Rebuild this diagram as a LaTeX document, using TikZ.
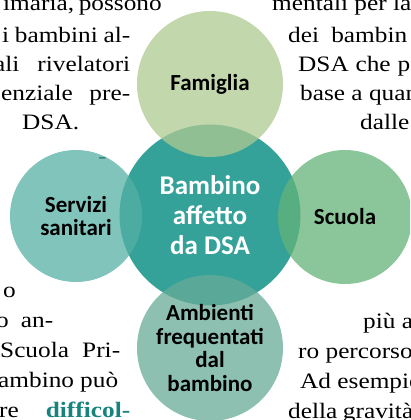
\documentclass[tikz,border=0pt]{standalone}
\usepackage{fontspec}
\usepackage{xcolor}
\setmainfont[FakeStretch=1.15]{Liberation Serif}
\newfontfamily\labelfont{Carlito}
\definecolor{dsateal}{RGB}{53,162,154}
\definecolor{dsadark}{RGB}{22,132,122}
\definecolor{famgreen}{RGB}{175,202,146}
\definecolor{santeal}{RGB}{86,176,166}
\definecolor{scugreen}{RGB}{99,179,120}
\definecolor{ambteal}{RGB}{103,171,151}

\begin{document}
\begin{tikzpicture}[x=1pt, y=-1pt,
    hub/.style={circle, fill=dsateal, inner sep=0pt, minimum size=181pt,
        align=center, text=white, font=\labelfont\bfseries\fontsize{27}{30}\selectfont},
    petal/.style={circle, fill opacity=0.75, text opacity=1, inner sep=0pt,
        align=center, font=\labelfont\bfseries\fontsize{23}{23.5}\selectfont},
    bgtext/.style={anchor=base west, inner sep=0pt, font=\fontsize{22}{29}\selectfont}]
    \useasboundingbox (0,0) rectangle (410,420);
    \clip (0,0) rectangle (410,420);

    % Page text around the figure (justified lines)
    \foreach \n/\x/\y/\w/\t in {1/3/11/153/{imaria, possono}, 2/2/42/128/{i bambini al-},
        3/-6/71/136/{ali rivelatori}, 4/1/100/129/{enziale pre-},
        5/-4/327/57/{o an-}, 6/0/357/120/{Scuola Pri-}, 7/-2/387/120/{ambino può},
        8/-1/417/131/{re \textbf{\color{dsadark}difficol-}}} {
        \node[bgtext] (left\n) at (\x,\y) {\makebox[\w pt][s]{\t}};
    }
    \foreach \n/\x/\y/\w/\t in {1/288/42/119/{dei bambin}, 2/298/71/112/{DSA che p},
        3/288/418/125/{della gravità}} {
        \node[bgtext] (right\n) at (\x,\y) {\makebox[\w pt][s]{\t}};
    }

    % Page text, natural spacing
    \node[bgtext] (left9) at (22,129) {DSA.};
    \node[bgtext] (left10) at (98,163) {-};
    \node[bgtext] (left11) at (3,297) {o};
    \node[bgtext] (right4) at (272,11) {mentali per la n};
    \node[bgtext] (right5) at (300,100) {base a quan};
    \node[bgtext] (right6) at (360,129) {dalle};
    \node[bgtext] (right7) at (363,328) {più a};
    \node[bgtext] (right8) at (298,358) {ro percorso};
    \node[bgtext] (right9) at (300,388) {Ad esempio};

    % Centre: the child
    \node[hub] (bambino) at (210,215) {Bambino\\affetto\\da DSA};

    % Surrounding environments
    \node[petal, fill=famgreen, minimum size=146pt] (famiglia) at (210,84) {Famiglia};
    \node[petal, fill=santeal, minimum size=132pt] (servizi) at (76,216) {Servizi\\sanitari};
    \node[petal, fill=scugreen, minimum size=134pt] (scuola) at (345,217) {Scuola};
    \node[petal, fill=ambteal, minimum size=146pt] (ambienti) at (210,348) {Ambienti\\frequentati\\dal\\bambino};
\end{tikzpicture}
\end{document}
